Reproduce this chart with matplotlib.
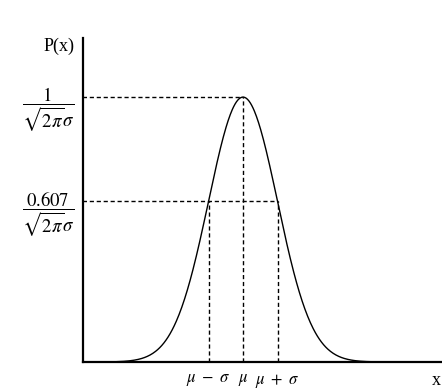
import numpy as np
import matplotlib
matplotlib.use("Agg")
import matplotlib.pyplot as plt

plt.rcParams['mathtext.fontset'] = 'stix'
plt.rcParams['font.family'] = ['Liberation Serif', 'DejaVu Serif']

# Normal density in units of sigma, normalised so the peak is 1
mu = 0.0
sigma = 1.0
peak_level = 1.0
sigma_level = 0.607
x_tick_positions = [mu - sigma, mu, mu + sigma]
x_tick_labels = [r'$\mu\ -\ \sigma$', r'$\mu$', r'$\mu\ +\ \sigma$']
y_tick_labels = [r'$\dfrac{0.607}{\sqrt{2\pi}\sigma}$', r'$\dfrac{1}{\sqrt{2\pi}\sigma}$']

x = np.linspace(mu - 4.0 * sigma, mu + 4.0 * sigma, 400)
p = peak_level * np.exp(-0.5 * ((x - mu) / sigma) ** 2)

fig = plt.figure(figsize=(4.42, 3.90), dpi=100)
ax = fig.add_axes([83 / 442, 28 / 390, (442 - 83) / 442, (362 - 38) / 390])

ax.plot(x, p, color='black', lw=1.0)

dash = dict(color='black', lw=1.0, ls=(0, (3, 2)))
ax.plot([mu, mu], [0, peak_level], **dash)
ax.plot([mu - sigma, mu - sigma], [0, sigma_level], **dash)
ax.plot([mu + sigma, mu + sigma], [0, sigma_level], **dash)
ax.plot([-10, mu], [peak_level, peak_level], **dash)
ax.plot([-10, mu + sigma], [sigma_level, sigma_level], **dash)

ax.set_xlim(-4.64, 5.77)
ax.set_ylim(0, 1.223)

for s in ['top', 'right']:
    ax.spines[s].set_visible(False)
for s in ['left', 'bottom']:
    ax.spines[s].set_linewidth(1.6)

ax.set_xticks(x_tick_positions)
ax.set_xticklabels(x_tick_labels, fontsize=12)
ax.tick_params(axis='x', length=0, pad=7)
ax.set_yticks([sigma_level, peak_level])
ax.set_yticklabels(y_tick_labels, fontsize=13.5)
ax.tick_params(axis='y', length=0, pad=6)

ax.text(-0.025, 1.0, 'P(x)', transform=ax.transAxes, fontsize=13,
        ha='right', va='top')
ax.text(0.985, -0.03, 'x', transform=ax.transAxes, fontsize=13,
        ha='center', va='top')

fig.savefig('out.png', dpi=100)
